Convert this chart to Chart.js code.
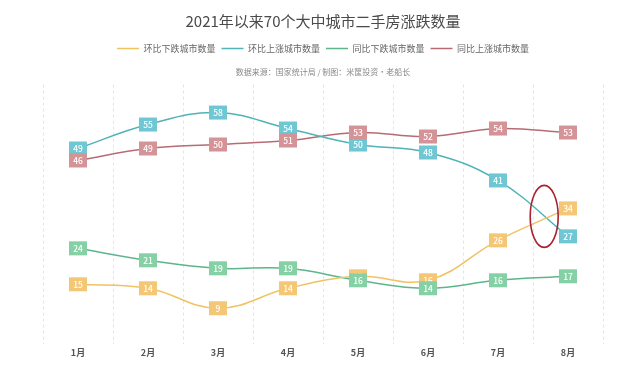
<!DOCTYPE html>
<html>
<head>
<meta charset="utf-8">
<script src="https://cdn.jsdelivr.net/npm/chart.js@4"></script>
<style>
  html, body { margin: 0; padding: 0; background: #fff; }
  #wrap { width: 641px; height: 374px; }
</style>
</head>
<body>
<div id="wrap"><canvas id="chart"></canvas></div>
<script>
const months = ['1月', '2月', '3月', '4月', '5月', '6月', '7月', '8月'];

const momDown = [15, 14, 9, 14, 17, 16, 26, 34];   // 环比下跌城市数量
const momUp   = [49, 55, 58, 54, 50, 48, 41, 27];  // 环比上涨城市数量
const yoyDown = [24, 21, 19, 19, 16, 14, 16, 17];  // 同比下跌城市数量
const yoyUp   = [46, 49, 50, 51, 53, 52, 54, 53];  // 同比上涨城市数量

const FONT = '"Noto Sans CJK SC", "Noto Sans", sans-serif';

// value boxes drawn on each point
const valueBoxes = {
    id: 'valueBoxes',
    afterDatasetsDraw(chart) {
        const ctx = chart.ctx;
        ctx.save();
        ctx.font = '500 8.5px ' + FONT;
        ctx.textAlign = 'center';
        ctx.textBaseline = 'middle';
        chart.data.datasets.forEach((ds, i) => {
            const meta = chart.getDatasetMeta(i);
            meta.data.forEach((pt, j) => {
                const w = 18, h = 14;
                ctx.fillStyle = ds.boxColor;
                ctx.fillRect(pt.x - w / 2, pt.y - h / 2, w, h);
                ctx.fillStyle = '#fff';
                ctx.fillText(ds.data[j], pt.x, pt.y + 0.5);
            });
        });
        ctx.restore();
    }
};

// red ring round the crossing of the two 环比 lines
const ring = {
    id: 'ring',
    afterDraw(chart) {
        const x = chart.scales.x.getPixelForValue(6.66);
        const y = chart.scales.y.getPixelForValue(32);
        const ctx = chart.ctx;
        ctx.save();
        ctx.strokeStyle = '#a8232e';
        ctx.lineWidth = 1.6;
        ctx.beginPath();
        ctx.ellipse(x, y, 14, 31, 0, 0, Math.PI * 2);
        ctx.stroke();
        ctx.restore();
    }
};

const series = (label, data, line, box) => ({
    label: label,
    data: data,
    borderColor: line,
    backgroundColor: line,
    boxColor: box,
    borderWidth: 1.5,
    tension: 0.4,
    pointRadius: 0,
    pointHoverRadius: 0
});

new Chart(document.getElementById('chart'), {
    type: 'line',
    data: {
        labels: months,
        datasets: [
            series('环比下跌城市数量', momDown, '#f1c262', '#f4c777'),
            series('环比上涨城市数量', momUp, '#4fb3b8', '#6fc7d4'),
            series('同比下跌城市数量', yoyDown, '#5db58c', '#85d0a4'),
            series('同比上涨城市数量', yoyUp, '#b86b72', '#d39397')
        ]
    },
    options: {
        responsive: true,
        maintainAspectRatio: false,
        animation: false,
        layout: { padding: { left: 43, right: 38, top: 8, bottom: 13 } },
        plugins: {
            title: {
                display: true,
                text: '2021年以来70个大中城市二手房涨跌数量',
                color: '#4a4a4a',
                font: { family: FONT, size: 15, weight: 'normal' },
                padding: { top: 4, bottom: 8 }
            },
            legend: {
                display: true,
                position: 'top',
                labels: {
                    usePointStyle: true,
                    pointStyle: 'line',
                    pointStyleWidth: 22,
                    color: '#666',
                    font: { family: FONT, size: 9 },
                    padding: 6
                }
            },
            subtitle: {
                display: true,
                text: '数据来源：国家统计局 / 制图：米筐投资·老船长',
                color: '#888',
                weight: 500,
                font: { family: FONT, size: 8 },
                padding: { top: 4, bottom: 8 }
            },
            tooltip: { enabled: false }
        },
        scales: {
            x: {
                offset: true,
                grid: {
                    offset: true,
                    color: '#e4e4e4',
                    tickLength: 0,
                    drawTicks: false
                },
                border: { display: false, dash: [3, 3] },
                ticks: {
                    color: '#555',
                    font: { family: FONT, size: 9, weight: 'bold' },
                    padding: 3
                }
            },
            y: {
                display: false,
                min: 0,
                max: 65
            }
        }
    },
    plugins: [valueBoxes, ring]
});
</script>
</body>
</html>
